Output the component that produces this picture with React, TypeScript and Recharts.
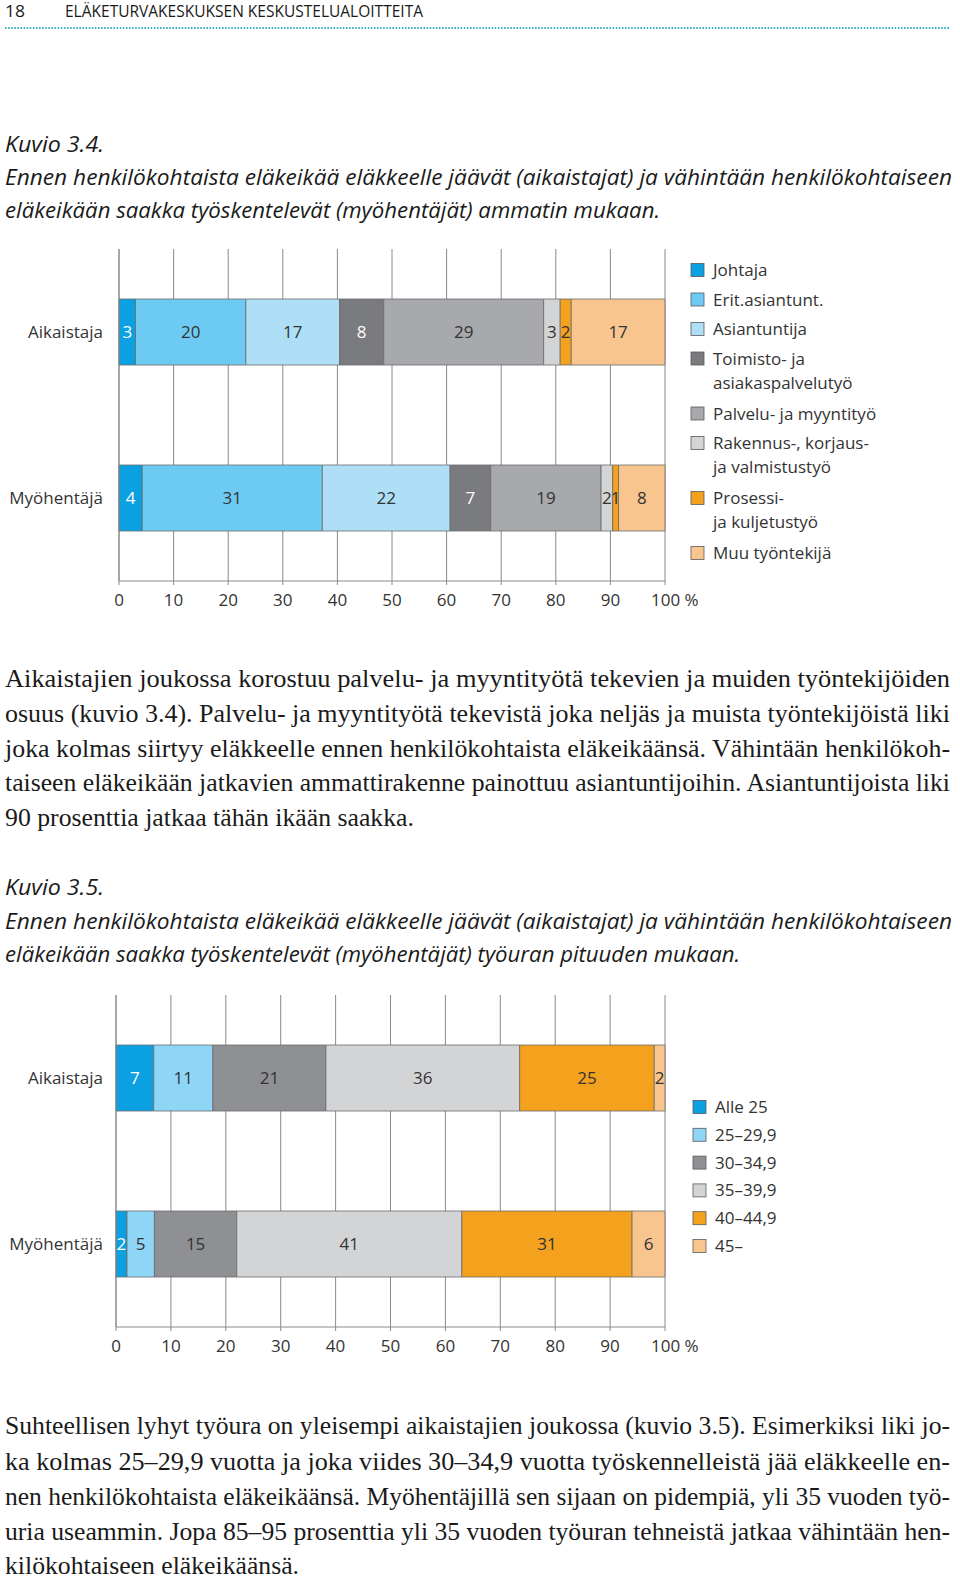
import React from "react";
import { BarChart, Bar, XAxis, YAxis, CartesianGrid, LabelList } from "recharts";

// categories
const groups = ["Aikaistaja", "Myöhentäjä"];

// kuvio 3.4: ammatti
const occupations = [
  "Johtaja",
  "Erit.asiantunt.",
  "Asiantuntija",
  "Toimisto- ja\nasiakaspalvelutyö",
  "Palvelu- ja myyntityö",
  "Rakennus-, korjaus-\nja valmistustyö",
  "Prosessi-\nja kuljetustyö",
  "Muu työntekijä",
];
const occupationEarly = [3, 20, 17, 8, 29, 3, 2, 17];
const occupationLate = [4, 31, 22, 7, 19, 2, 1, 8];
const occupationColors = ["#0aa0e2", "#6dcbf3", "#aedff7", "#7a7b7e", "#a7a9ac", "#d3d4d6", "#f4a11e", "#f8c58e"];
const occupationLabelColors = ["#ffffff", "#333", "#333", "#ffffff", "#333", "#333", "#333", "#333"];

// kuvio 3.5: työuran pituus
const careers = ["Alle 25", "25–29,9", "30–34,9", "35–39,9", "40–44,9", "45–"];
const careerEarly = [7, 11, 21, 36, 25, 2];
const careerLate = [2, 5, 15, 41, 31, 6];
const careerColors = ["#0aa0e2", "#8fd5f6", "#8f9093", "#d3d4d6", "#f4a11e", "#f8c58e"];
const careerLabelColors = ["#ffffff", "#333", "#333", "#333", "#333", "#333"];

const xTickValues = [0, 10, 20, 30, 40, 50, 60, 70, 80, 90, 100];
const xTickLabels = ["0", "10", "20", "30", "40", "50", "60", "70", "80", "90", "100 %"];

const SANS = "'Open Sans', 'Noto Sans', sans-serif";
const SERIF = "'Liberation Serif', 'DejaVu Serif', serif";
const GRID = "#8a8a8a";

function makeRows(early: number[], late: number[]) {
  return groups.map((g, i) => {
    const row: Record<string, any> = { group: g };
    (i === 0 ? early : late).forEach((v, k) => (row[`s${k}`] = v));
    return row;
  });
}

function XTick(props: any) {
  const { x, y, payload } = props;
  const idx = xTickValues.indexOf(Math.round(payload.value * 100));
  const label = xTickLabels[idx] ?? "";
  const last = idx === xTickValues.length - 1;
  return (
    <text
      x={last ? x - 14 : x}
      y={y}
      dy="0.71em"
      textAnchor={last ? "start" : "middle"}
      fontSize={17}
      fontFamily={SANS}
      fill="#333"
    >
      {label}
    </text>
  );
}

function StackedChart(props: {
  early: number[];
  late: number[];
  colors: string[];
  labelColors: string[];
  yWidth: number;
  top: number;
  bottom: number;
}) {
  const { early, late, colors, labelColors, yWidth, top, bottom } = props;
  const rows = makeRows(early, late);
  return (
    <BarChart
      width={720}
      height={380}
      data={rows}
      layout="vertical"
      stackOffset="expand"
      margin={{ top, right: 55, left: 0, bottom }}
    >
      <CartesianGrid horizontal={false} stroke={GRID} />
      <XAxis
        type="number"
        domain={[0, 1]}
        ticks={xTickValues.map((v) => v / 100)}
        height={30}
        tickSize={4}
        tickMargin={9}
        stroke={GRID}
        tick={<XTick />}
      />
      <YAxis
        type="category"
        dataKey="group"
        width={yWidth}
        tickSize={0}
        tickMargin={yWidth - 103}
        stroke={GRID}
        tick={{ fontSize: 17, fontFamily: SANS, fill: "#333" }}
      />
      {colors.map((c, k) => (
        <Bar
          key={k}
          dataKey={`s${k}`}
          stackId="a"
          fill={c}
          stroke="#6a6a6a"
          strokeWidth={0.8}
          barSize={66}
          isAnimationActive={false}
        >
          <LabelList
            dataKey={`s${k}`}
            content={(p: any) => {
              const vb = p.viewBox ?? p;
              const { x, y, width, height } = vb;
              const v = rows[p.index]?.[`s${k}`] ?? p.value;
              return (
                <text
                  x={x + width / 2}
                  y={y + height / 2}
                  dy="0.35em"
                  textAnchor="middle"
                  fontSize={17}
                  fontFamily={SANS}
                  fill={labelColors[k]}
                >
                  {v}
                </text>
              );
            }}
          />
        </Bar>
      ))}
    </BarChart>
  );
}

function Line(props: { x: number; y: number; w?: number; size: number; family: string; italic?: boolean; children: string }) {
  const { x, y, w, size, family, italic, children } = props;
  return (
    <text
      x={x}
      y={y}
      fontSize={size}
      fontFamily={family}
      fontStyle={italic ? "italic" : "normal"}
      fill="#1a1a1a"
      textLength={w}
      lengthAdjust={w ? "spacingAndGlyphs" : undefined}
    >
      {children}
    </text>
  );
}

function LegendBlock(props: { names: string[]; colors: string[]; x: number; y: number; step: number; extra: number }) {
  const { names, colors, x, y, step, extra } = props;
  let cy = y;
  return (
    <g>
      {names.map((n, i) => {
        const lines = n.split("\n");
        const top = cy;
        cy += step + extra * (lines.length - 1);
        return (
          <g key={i}>
            <rect x={x} y={top - 6.5} width={13} height={13} fill={colors[i]} stroke="#5a5a5a" strokeWidth={0.8} />
            {lines.map((l, j) => (
              <text key={j} x={x + 22} y={top + 6 + j * 24} fontSize={17} fontFamily={SANS} fill="#333">
                {l}
              </text>
            ))}
          </g>
        );
      })}
    </g>
  );
}

export default function App() {
  return (
    <div style={{ position: "absolute", left: 0, top: 0, width: 960, height: 1579, overflow: "hidden", background: "#fff" }}>
      <svg width={960} height={1579} style={{ position: "absolute", left: 0, top: 0 }}>
        <Line x={5} y={17} w={20} size={16} family={SANS}>18</Line>
        <Line x={65} y={17} w={358} size={16} family={SANS}>ELÄKETURVAKESKUKSEN KESKUSTELUALOITTEITA</Line>
        <line x1={5} x2={950} y1={28} y2={28} stroke="#2fb0bf" strokeWidth={2} strokeDasharray="1.5 1.6" />

        <Line x={5} y={152} w={99} size={21} family={SANS} italic>Kuvio 3.4.</Line>
        <Line x={5} y={185} w={947} size={21} family={SANS} italic>
          Ennen henkilökohtaista eläkeikää eläkkeelle jäävät (aikaistajat) ja vähintään henkilökohtaiseen
        </Line>
        <Line x={5} y={218} w={655} size={21} family={SANS} italic>
          eläkeikään saakka työskentelevät (myöhentäjät) ammatin mukaan.
        </Line>

        <LegendBlock names={occupations} colors={occupationColors} x={691} y={270} step={29.5} extra={25.5} />

        <Line x={5} y={687} w={945} size={24.5} family={SERIF}>
          Aikaistajien joukossa korostuu palvelu- ja myyntityötä tekevien ja muiden työntekijöiden
        </Line>
        <Line x={5} y={722} w={945} size={24.5} family={SERIF}>
          osuus (kuvio 3.4). Palvelu- ja myyntityötä tekevistä joka neljäs ja muista työntekijöistä liki
        </Line>
        <Line x={5} y={757} w={945} size={24.5} family={SERIF}>
          joka kolmas siirtyy eläkkeelle ennen henkilökohtaista eläkeikäänsä. Vähintään henkilökoh-
        </Line>
        <Line x={5} y={791} w={945} size={24.5} family={SERIF}>
          taiseen eläkeikään jatkavien ammattirakenne painottuu asiantuntijoihin. Asiantuntijoista liki
        </Line>
        <Line x={5} y={826} w={409} size={24.5} family={SERIF}>
          90 prosenttia jatkaa tähän ikään saakka.
        </Line>

        <Line x={5} y={895} w={99} size={21} family={SANS} italic>Kuvio 3.5.</Line>
        <Line x={5} y={929} w={947} size={21} family={SANS} italic>
          Ennen henkilökohtaista eläkeikää eläkkeelle jäävät (aikaistajat) ja vähintään henkilökohtaiseen
        </Line>
        <Line x={5} y={962} w={735} size={21} family={SANS} italic>
          eläkeikään saakka työskentelevät (myöhentäjät) työuran pituuden mukaan.
        </Line>

        <LegendBlock names={careers} colors={careerColors} x={693} y={1107} step={27.8} extra={0} />

        <Line x={5} y={1434} w={945} size={24.5} family={SERIF}>
          Suhteellisen lyhyt työura on yleisempi aikaistajien joukossa (kuvio 3.5). Esimerkiksi liki jo-
        </Line>
        <Line x={5} y={1470} w={945} size={24.5} family={SERIF}>
          ka kolmas 25–29,9 vuotta ja joka viides 30–34,9 vuotta työskennelleistä jää eläkkeelle en-
        </Line>
        <Line x={5} y={1505} w={945} size={24.5} family={SERIF}>
          nen henkilökohtaista eläkeikäänsä. Myöhentäjillä sen sijaan on pidempiä, yli 35 vuoden työ-
        </Line>
        <Line x={5} y={1540} w={945} size={24.5} family={SERIF}>
          uria useammin. Jopa 85–95 prosenttia yli 35 vuoden työuran tehneistä jatkaa vähintään hen-
        </Line>
        <Line x={5} y={1574} w={294} size={24.5} family={SERIF}>
          kilökohtaiseen eläkeikäänsä.
        </Line>
      </svg>

      <div style={{ position: "absolute", left: 0, top: 240 }}>
        <StackedChart
          early={occupationEarly}
          late={occupationLate}
          colors={occupationColors}
          labelColors={occupationLabelColors}
          yWidth={119}
          top={9}
          bottom={9}
        />
      </div>
      <div style={{ position: "absolute", left: 0, top: 985 }}>
        <StackedChart
          early={careerEarly}
          late={careerLate}
          colors={careerColors}
          labelColors={careerLabelColors}
          yWidth={116}
          top={10}
          bottom={8}
        />
      </div>
    </div>
  );
}
